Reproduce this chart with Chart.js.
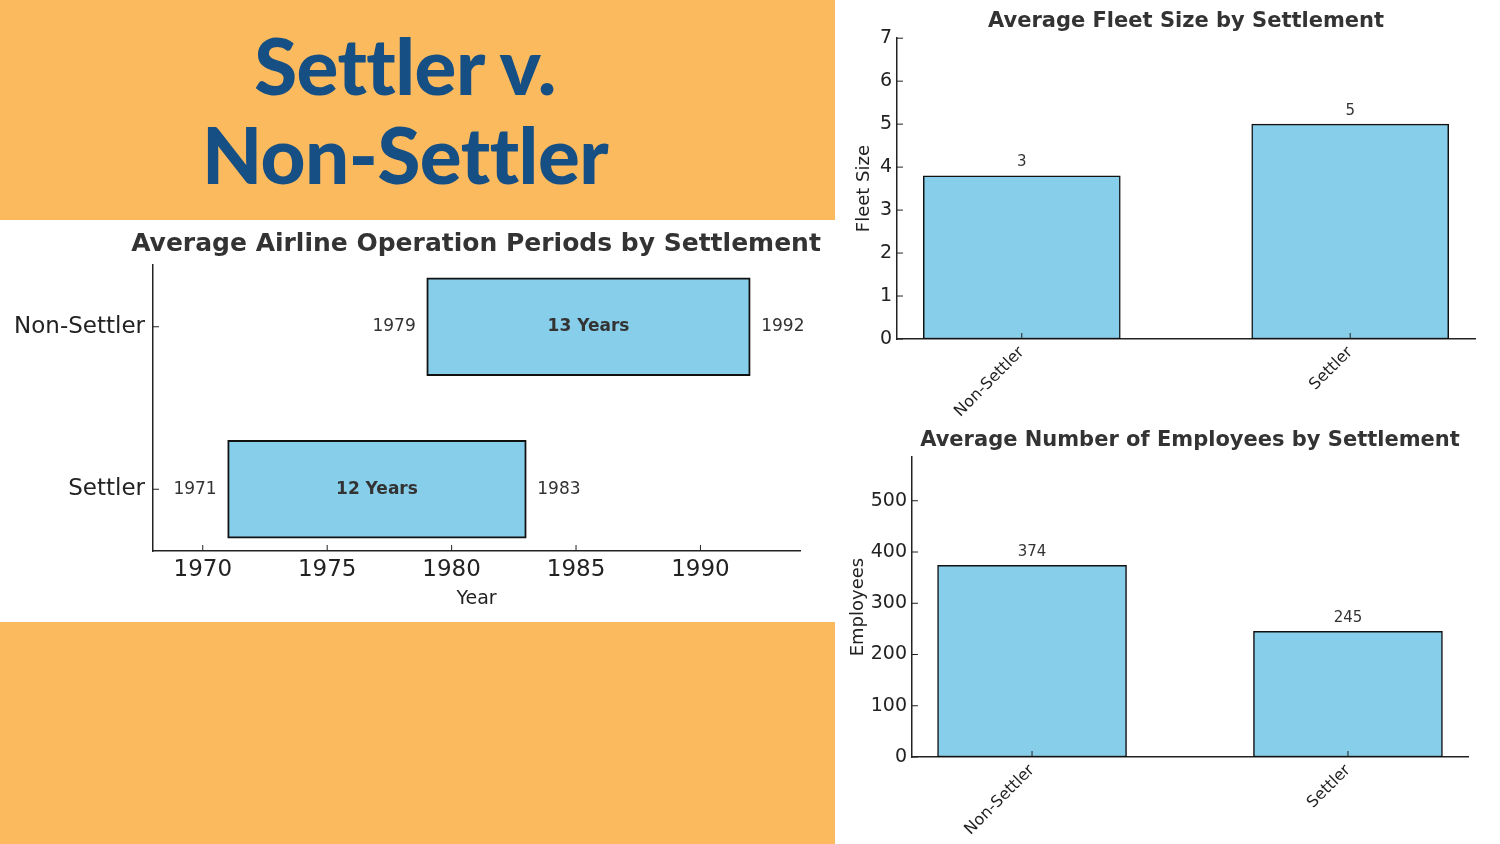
<!DOCTYPE html>
<html>
<head>
<meta charset="utf-8">
<script src="https://cdn.jsdelivr.net/npm/chart.js@4.4.1/dist/chart.umd.min.js"></script>
<style>
  html, body { margin: 0; padding: 0; background: #fff; }
  body { width: 1500px; height: 844px; position: relative; overflow: hidden; }
  .band { position: absolute; left: 0; width: 835px; background: #FBBA5E; }
  #topBand { top: 0; height: 220px; }
  #bottomBand { top: 622px; height: 222px; }
  #headline {
    position: absolute; left: 0; top: 21px; width: 810px; margin: 0;
    text-align: center; font-family: Lato, sans-serif; font-weight: 900;
    font-size: 78px; line-height: 89px; color: #154F84; letter-spacing: -0.5px;
  }
  canvas { position: absolute; }
  #periods { left: 0; top: 222px; }
  #fleet { left: 835px; top: 0; }
  #staff { left: 835px; top: 420px; }
</style>
</head>
<body>
<div class="band" id="topBand"></div>
<div class="band" id="bottomBand"></div>
<h1 id="headline">Settler v.<br>Non-Settler</h1>
<canvas id="periods" width="952" height="400"></canvas>
<canvas id="fleet" width="665" height="420"></canvas>
<canvas id="staff" width="665" height="424"></canvas>
<script>
/* ---------- data ---------- */
const categories = ['Non-Settler', 'Settler'];
const startYears = [1979, 1971];
const endYears = [1992, 1983];
const yearTicks = [1970, 1975, 1980, 1985, 1990];
const fleetSize = [3.8, 5];
const fleetTicks = [0, 1, 2, 3, 4, 5, 6, 7];
const employees = [374, 245];
const employeeTicks = [0, 100, 200, 300, 400, 500];

const barFill = '#87CEEB';
const ink = '#222222';
const titleInk = '#333333';

Chart.defaults.font.family = "'DejaVu Sans', sans-serif";
Chart.defaults.color = ink;

/* ---------- helpers ---------- */
const indexTicks = (scale) => { scale.ticks = categories.map((c, i) => ({ value: i })); };

// matplotlib style tick marks, pointing into the plot
const innerTicks = {
  id: 'innerTicks',
  afterDraw(chart) {
    const ctx = chart.ctx;
    ctx.save();
    ctx.strokeStyle = ink;
    ctx.lineWidth = 1;
    Object.values(chart.scales).forEach(scale => {
      if (scale.options.ticks.display === false) return;
      scale.ticks.forEach(t => {
        const p = scale.getPixelForValue(t.value);
        ctx.beginPath();
        if (scale.isHorizontal()) { ctx.moveTo(p, scale.top); ctx.lineTo(p, scale.top - 6); }
        else { ctx.moveTo(scale.right, p); ctx.lineTo(scale.right + 6, p); }
        ctx.stroke();
      });
    });
    ctx.restore();
  }
};

// start / end years and duration on the floating bars
const periodLabels = {
  id: 'periodLabels',
  afterDatasetsDraw(chart) {
    const ctx = chart.ctx;
    chart.getDatasetMeta(0).data.forEach((bar, i) => {
      const left = Math.min(bar.x, bar.base);
      const right = Math.max(bar.x, bar.base);
      ctx.save();
      ctx.fillStyle = titleInk;
      ctx.textBaseline = 'middle';
      ctx.font = "17px 'DejaVu Sans'";
      ctx.textAlign = 'right';
      ctx.fillText(String(startYears[i]), left - 11, bar.y);
      ctx.textAlign = 'left';
      ctx.fillText(String(endYears[i]), right + 11, bar.y);
      ctx.font = "bold 17px 'DejaVu Sans'";
      ctx.textAlign = 'center';
      ctx.fillText((endYears[i] - startYears[i]) + ' Years', (left + right) / 2, bar.y);
      ctx.restore();
    });
  }
};

// value on top of each bar (shown as whole number)
const valueLabels = {
  id: 'valueLabels',
  afterDatasetsDraw(chart) {
    const ctx = chart.ctx;
    const points = chart.data.datasets[0].data;
    chart.getDatasetMeta(0).data.forEach((bar, i) => {
      ctx.save();
      ctx.fillStyle = titleInk;
      ctx.font = "15px 'DejaVu Sans'";
      ctx.textAlign = 'center';
      ctx.textBaseline = 'bottom';
      ctx.fillText(String(Math.trunc(points[i].y)), bar.x, bar.y - 6);
      ctx.restore();
    });
  }
};

const titleOpts = (text, size, top, bottom, full) => ({
  display: true, text: text, fullSize: full, color: titleInk,
  font: { size: size, weight: 'bold' }, padding: { top: top, bottom: bottom }
});

const noGrid = { display: false, drawTicks: false };

/* ---------- operation periods ---------- */
// canvas runs past the panel (transparent) so the full-width title centres over the plot
new Chart(document.getElementById('periods'), {
  type: 'bar',
  data: {
    datasets: [{
      data: categories.map((c, i) => ({ x: [startYears[i], endYears[i]], y: i })),
      backgroundColor: barFill,
      borderColor: '#111111',
      borderWidth: 2,
      borderSkipped: false,
      barThickness: 98
    }]
  },
  options: {
    indexAxis: 'y',
    responsive: false,
    animation: false,
    layout: { padding: 0 },
    plugins: {
      legend: { display: false },
      tooltip: { enabled: false },
      title: titleOpts('Average Airline Operation Periods by Settlement', 25, 7, 6, true)
    },
    scales: {
      x: {
        type: 'linear', min: 1968, max: 1994,
        afterBuildTicks: s => { s.ticks = yearTicks.map(v => ({ value: v })); },
        afterFit: s => { s.height = 71; },
        grid: noGrid,
        border: { color: ink, width: 1.5 },
        ticks: { font: { size: 23 }, padding: 5, autoSkip: false, callback: v => String(v) },
        title: { display: true, text: 'Year', color: ink, font: { size: 19 }, padding: { top: 0, bottom: 12 } }
      },
      y: {
        type: 'linear', reverse: true, offset: false, min: -0.38, max: 1.38,
        afterBuildTicks: indexTicks,
        afterFit: s => { s.width = 153; },
        grid: noGrid,
        border: { color: ink, width: 1.5 },
        ticks: { font: { size: 23 }, padding: 8, autoSkip: false, callback: v => categories[v] }
      },
      // empty right-hand margin
      yPad: {
        type: 'linear', position: 'right',
        afterFit: s => { s.width = 152; },
        grid: noGrid,
        border: { display: false },
        ticks: { display: false }
      }
    }
  },
  plugins: [innerTicks, periodLabels]
});

/* ---------- fleet size ---------- */
new Chart(document.getElementById('fleet'), {
  type: 'bar',
  data: {
    datasets: [{
      data: categories.map((c, i) => ({ x: i, y: fleetSize[i] })),
      backgroundColor: barFill,
      borderColor: '#111111',
      borderWidth: 1.5,
      borderSkipped: false,
      barThickness: 197
    }]
  },
  options: {
    responsive: false,
    animation: false,
    layout: { padding: { left: 0, right: 25, top: 0, bottom: 0 } },
    plugins: {
      legend: { display: false },
      tooltip: { enabled: false },
      title: titleOpts('Average Fleet Size by Settlement', 21, 9, 4, false)
    },
    scales: {
      x: {
        type: 'linear', offset: false, min: -0.38, max: 1.38,
        afterBuildTicks: indexTicks,
        afterFit: s => { s.height = 81; },
        grid: noGrid,
        border: { color: ink, width: 1.5 },
        ticks: { font: { size: 16 }, padding: 4, autoSkip: false, minRotation: 45, maxRotation: 45, callback: v => categories[v] }
      },
      y: {
        min: 0, max: 7,
        afterBuildTicks: s => { s.ticks = fleetTicks.map(v => ({ value: v })); },
        afterFit: s => { s.width = 62; },
        grid: noGrid,
        border: { color: ink, width: 1.5 },
        ticks: { font: { size: 19 }, padding: 5, autoSkip: false },
        title: { display: true, text: 'Fleet Size', color: ink, font: { size: 18 }, padding: { top: 19, bottom: 0 } }
      }
    }
  },
  plugins: [innerTicks, valueLabels]
});

/* ---------- employees ---------- */
new Chart(document.getElementById('staff'), {
  type: 'bar',
  data: {
    datasets: [{
      data: categories.map((c, i) => ({ x: i, y: employees[i] })),
      backgroundColor: barFill,
      borderColor: '#111111',
      borderWidth: 1.5,
      borderSkipped: false,
      barThickness: 189
    }]
  },
  options: {
    responsive: false,
    animation: false,
    layout: { padding: { left: 0, right: 32, top: 0, bottom: 0 } },
    plugins: {
      legend: { display: false },
      tooltip: { enabled: false },
      title: titleOpts('Average Number of Employees by Settlement', 21, 8, 4, false)
    },
    scales: {
      x: {
        type: 'linear', offset: false, min: -0.38, max: 1.38,
        afterBuildTicks: indexTicks,
        afterFit: s => { s.height = 87; },
        grid: noGrid,
        border: { color: ink, width: 1.5 },
        ticks: { font: { size: 16 }, padding: 4, autoSkip: false, minRotation: 45, maxRotation: 45, callback: v => categories[v] }
      },
      y: {
        min: 0, max: 585,
        afterBuildTicks: s => { s.ticks = employeeTicks.map(v => ({ value: v })); },
        afterFit: s => { s.width = 77; },
        grid: noGrid,
        border: { color: ink, width: 1.5 },
        ticks: { font: { size: 19 }, padding: 5, autoSkip: false },
        title: { display: true, text: 'Employees', color: ink, font: { size: 18 }, padding: { top: 13, bottom: 0 } }
      }
    }
  },
  plugins: [innerTicks, valueLabels]
});
</script>
</body>
</html>
